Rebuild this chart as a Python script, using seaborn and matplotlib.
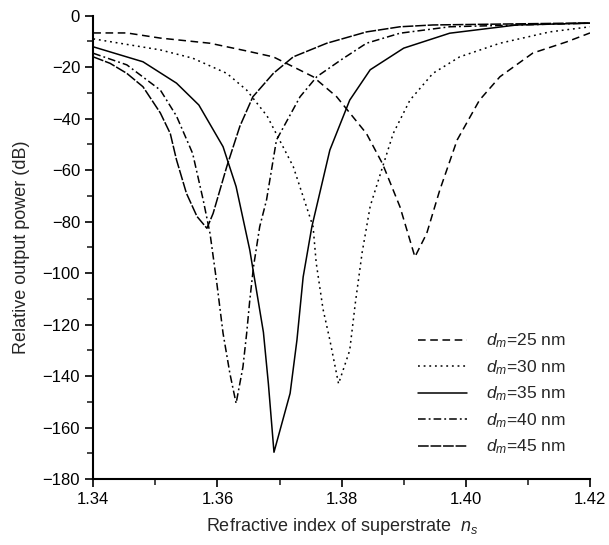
import matplotlib
matplotlib.use("Agg")
import matplotlib.pyplot as plt
import seaborn as sns
import pandas as pd
import numpy as np

# ---- data ----
n25 = [1.340, 1.3454, 1.3508, 1.3588, 1.3647, 1.3690, 1.3754, 1.3792, 1.3840, 1.3866, 1.3894, 1.3918,
       1.3937, 1.3958, 1.3986, 1.4022, 1.4055, 1.4108, 1.4162, 1.420]
p25 = [-6.7, -6.7, -8.7, -10.7, -13.7, -16.0, -23.7, -31.5, -45.8, -57.6, -74.3, -93.7,
       -84.6, -67.8, -48.3, -32.8, -23.7, -14.5, -10.2, -6.7]

n30 = [1.340, 1.3508, 1.3560, 1.3615, 1.3647, 1.3680, 1.3722, 1.3754, 1.3759, 1.3770, 1.3781, 1.3795,
       1.3813, 1.3822, 1.3833, 1.3846, 1.3866, 1.3883, 1.3910, 1.3947, 1.3990, 1.4055, 1.4135, 1.420]
p30 = [-9.0, -13.3, -16.5, -22.4, -28.9, -39.0, -58.6, -82.0, -96.0, -114.0, -126.0, -143.0,
       -130.0, -111.7, -92.0, -74.0, -58.7, -45.8, -32.8, -22.4, -16.0, -10.7, -6.3, -4.3]

n35 = [1.340, 1.3480, 1.3534, 1.3570, 1.3609, 1.3630, 1.3652, 1.3674, 1.3682, 1.3691,
       1.3717, 1.3728, 1.3738, 1.3752, 1.3781, 1.3813, 1.3846, 1.3900, 1.3974, 1.4082, 1.420]
p35 = [-12.1, -17.9, -26.2, -34.7, -50.9, -66.4, -91.0, -123.0, -143.0, -169.6,
       -146.7, -126.0, -101.5, -82.0, -52.2, -32.8, -21.0, -12.6, -6.8, -3.6, -2.9]

n40 = [1.340, 1.3454, 1.3508, 1.3534, 1.3560, 1.3577, 1.3588, 1.3599, 1.3609, 1.3620, 1.3630,
       1.3641, 1.3647, 1.3652, 1.3658, 1.3668, 1.3679, 1.3695, 1.3733, 1.3760, 1.3800, 1.3840,
       1.3894, 1.3974, 1.420]
p40 = [-14.6, -19.1, -28.9, -39.0, -53.5, -71.6, -84.6, -104.0, -123.4, -139.0, -150.6,
       -136.5, -123.4, -110.6, -97.6, -82.0, -71.6, -48.3, -31.5, -23.7, -17.0, -10.7,
       -6.8, -4.3, -2.9]

n45 = [1.340, 1.3427, 1.3454, 1.3480, 1.3508, 1.3524, 1.3534, 1.3550, 1.3567, 1.3583,
       1.3593, 1.3615, 1.3636, 1.3657, 1.3690, 1.3722, 1.3776, 1.3840, 1.3894, 1.3947, 1.420]
p45 = [-16.0, -18.5, -22.4, -27.6, -37.8, -45.8, -56.0, -69.0, -78.0, -82.6,
       -76.8, -58.6, -43.0, -31.5, -22.4, -16.0, -10.7, -6.3, -4.3, -3.6, -2.8]

labels = [r"$d_m$=25 nm", r"$d_m$=30 nm", r"$d_m$=35 nm", r"$d_m$=40 nm", r"$d_m$=45 nm"]
xticks = [1.34, 1.36, 1.38, 1.40, 1.42]
yticks = list(range(-180, 1, 20))

series = [(n25, p25), (n30, p30), (n35, p35), (n40, p40), (n45, p45)]
frames = []
for lab, (nx, py) in zip(labels, series):
    frames.append(pd.DataFrame({"n": nx, "p": py, "d": lab}))
df = pd.concat(frames, ignore_index=True)

sns.set_theme(style="ticks")
plt.rcParams["font.family"] = ["Liberation Sans", "DejaVu Sans"]
plt.rcParams["mathtext.fontset"] = "custom"
plt.rcParams["mathtext.rm"] = "Liberation Sans"
plt.rcParams["mathtext.it"] = "Liberation Sans:italic"

fig = plt.figure(figsize=(6.09, 5.45), dpi=100)
ax = fig.add_axes([93.3 / 609, 1 - 479 / 545, (590 - 93.3) / 609, (479 - 15.7) / 545])

styles = [(0, (5, 3)), (0, (1.2, 2.5)), "-", (0, (5, 2, 1.2, 2)), (0, (7, 1.2))]
for lab, ls in zip(labels, styles):
    sub = df[df["d"] == lab]
    sns.lineplot(data=sub, x="n", y="p", ax=ax, color="black", linewidth=1.1,
                 linestyle=ls, sort=False, label=lab, estimator=None)

ax.set_xlim(1.34, 1.42)
ax.set_ylim(-180, 0)
ax.set_xticks(xticks)
ax.set_xticklabels(["%.2f" % v for v in xticks])
ax.set_xticks(np.arange(1.35, 1.42, 0.02), minor=True)
ax.set_yticks(yticks)
ax.set_yticks(np.arange(-170, 0, 20), minor=True)
ax.tick_params(axis="both", which="major", direction="out", length=6, width=1.2,
               labelsize=12, colors="black")
ax.tick_params(axis="both", which="minor", direction="out", length=4, width=1.2)
for s in ["top", "right"]:
    ax.spines[s].set_visible(False)
for s in ["left", "bottom"]:
    ax.spines[s].set_linewidth(1.5)
    ax.spines[s].set_color("black")

ax.set_xlabel(r"Refractive index of superstrate  $n_s$", fontsize=13, labelpad=6)
ax.set_ylabel("Relative output power (dB)", fontsize=13, labelpad=9)

leg = ax.legend(loc="upper left", bbox_to_anchor=(0.654, 0.318), frameon=False,
                fontsize=12.5, handlelength=2.8, handletextpad=1.1, labelspacing=0.45,
                borderaxespad=0, borderpad=0)
for line in leg.get_lines():
    line.set_linewidth(1.1)

fig.savefig("out.png", dpi=100)
